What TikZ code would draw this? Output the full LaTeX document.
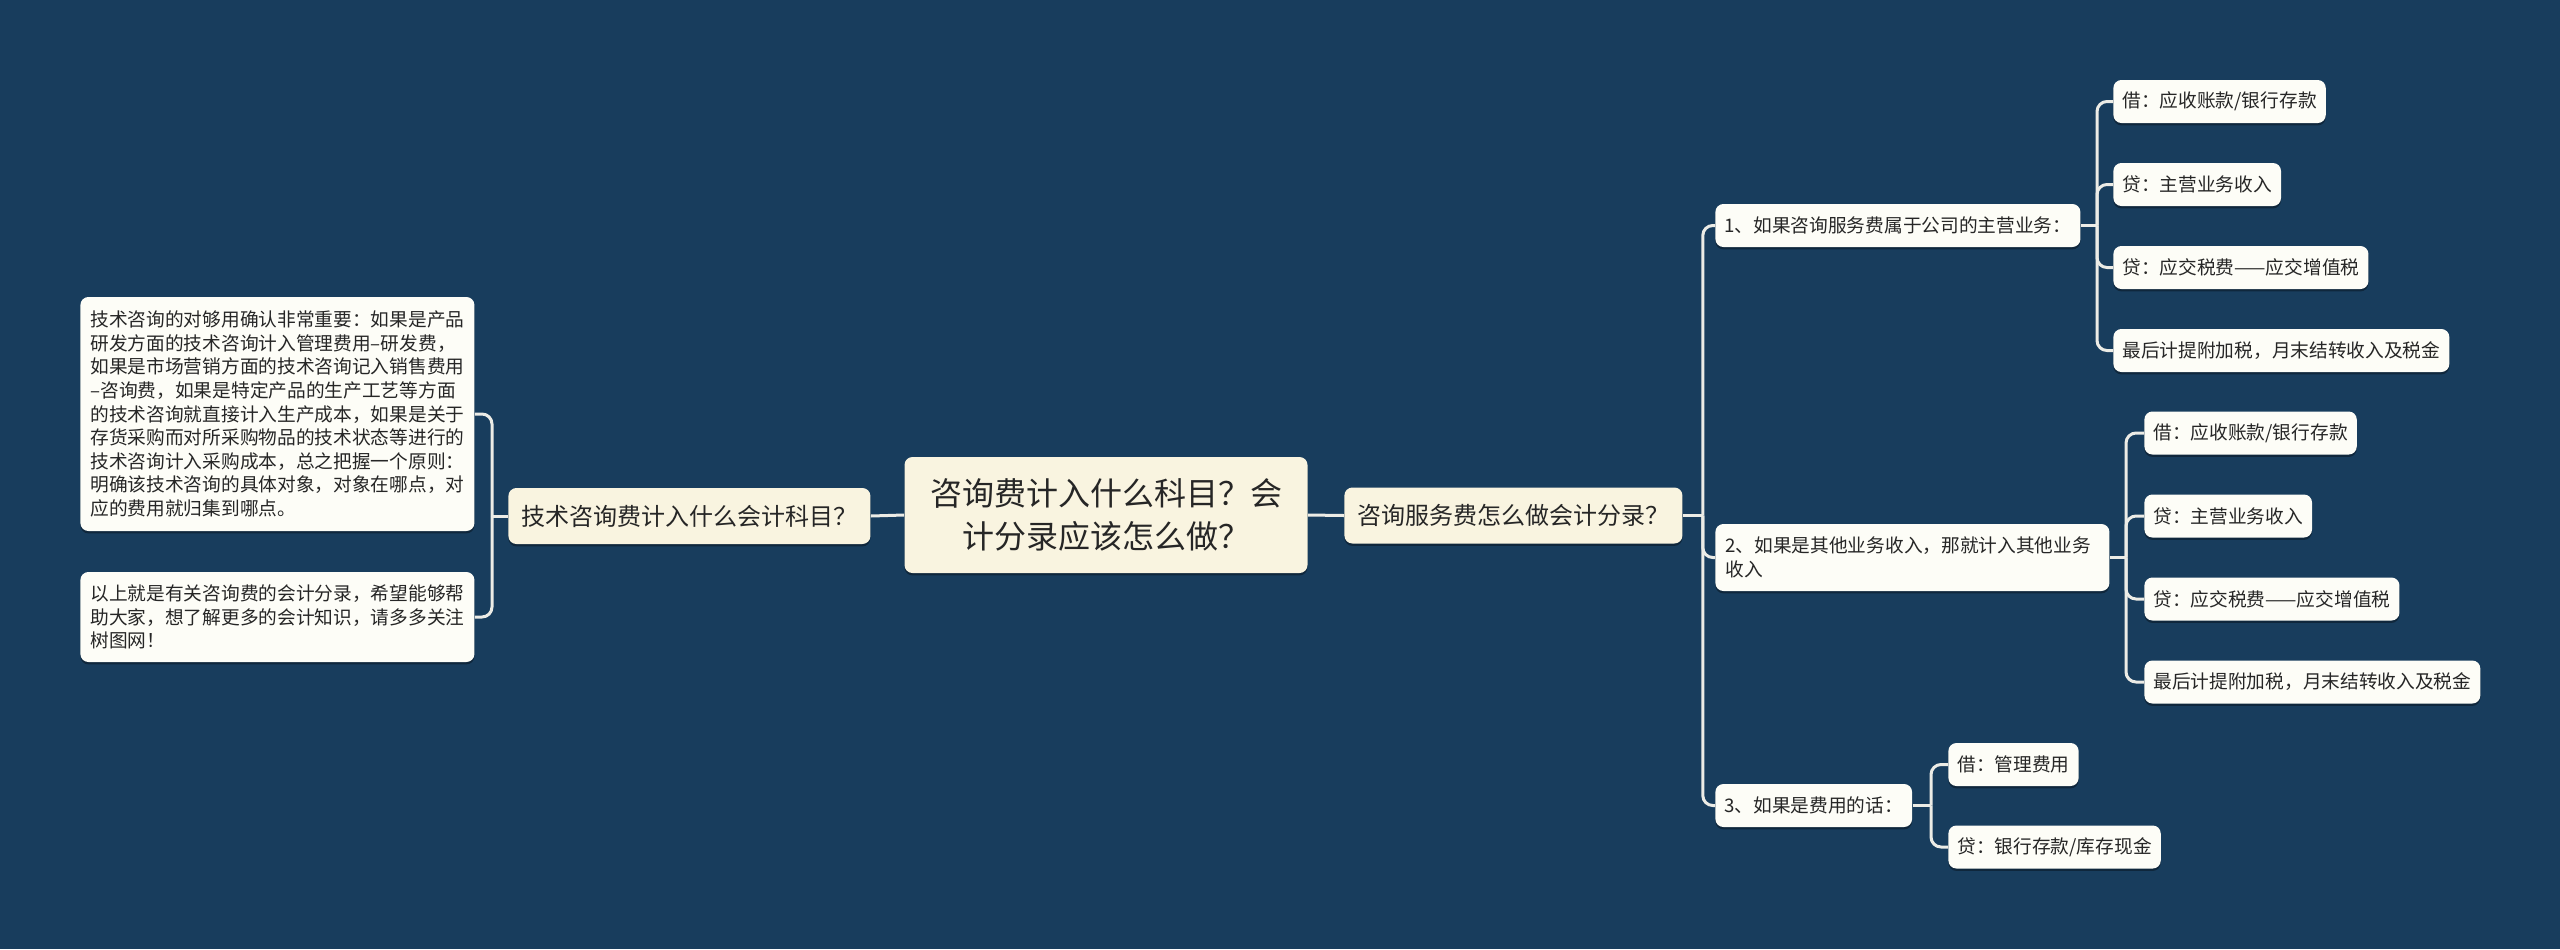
\documentclass[tikz,border=0pt]{standalone}
\usepackage{fontspec}
\setmainfont{Noto Sans CJK SC}
\usetikzlibrary{shadows}

\definecolor{mapbg}{RGB}{24,61,93}
\definecolor{creamfill}{RGB}{249,244,224}
\definecolor{leaffill}{RGB}{253,253,247}
\definecolor{linkgrey}{RGB}{236,236,230}
\definecolor{inkgrey}{RGB}{38,38,38}

\tikzset{
    cardbox/.style={rounded corners=4pt, text=inkgrey,
      drop shadow={shadow xshift=0pt, shadow yshift=-1.2pt, opacity=0.35, fill=black}},
    rootbox/.style={cardbox, fill=creamfill, font=\fontsize{16}{21.5}\selectfont,
      align=center, inner xsep=12.75pt, minimum height=58pt},
    topicbox/.style={cardbox, fill=creamfill, font=\fontsize{12}{14}\selectfont,
      inner xsep=6.5pt, minimum height=28pt},
    leafbox/.style={cardbox, fill=leaffill, font=\fontsize{9.35}{11.8}\selectfont,
      inner xsep=4.5pt, minimum height=21.5pt, anchor=west},
    notebox/.style={leafbox, inner xsep=5pt, text width=187pt, align=left},
    link/.style={draw=linkgrey, line width=1.5pt, rounded corners=5pt}
}

\begin{document}
\begin{tikzpicture}[x=0.5pt,y=-0.5pt]
    \fill[mapbg] (0,0) rectangle (2560,949);
    \useasboundingbox (0,0) rectangle (2560,949);

    \node[rootbox] (root) at (1106,515) {咨询费计入什么科目？会\\计分录应该怎么做？};
    \node[topicbox, anchor=west] (tech) at (508,516) {技术咨询费计入什么会计科目？};
    \node[topicbox, anchor=west] (svc) at (1344,515.5) {咨询服务费怎么做会计分录？};

    \node[notebox, minimum height=117pt] (note1) at (80,414) {技术咨询的对够用确认非常重要：如果是产品\\研发方面的技术咨询计入管理费用–研发费，\\如果是市场营销方面的技术咨询记入销售费用\\–咨询费，如果是特定产品的生产工艺等方面\\的技术咨询就直接计入生产成本，如果是关于\\存货采购而对所采购物品的技术状态等进行的\\技术咨询计入采购成本，总之把握一个原则：\\明确该技术咨询的具体对象，对象在哪点，对\\应的费用就归集到哪点。};
    \node[notebox, minimum height=45pt] (note2) at (80,617) {以上就是有关咨询费的会计分录，希望能够帮\\助大家，想了解更多的会计知识，请多多关注\\树图网！};

    \node[leafbox] (case1) at (1715,225.5) {1、如果咨询服务费属于公司的主营业务：};
    \node[notebox, minimum height=33.5pt] (case2) at (1715,557.5) {2、如果是其他业务收入，那就计入其他业务\\收入};
    \node[leafbox] (case3) at (1715,805.5) {3、如果是费用的话：};

    \foreach \t [count=\i] in {{借：应收账款/银行存款},{贷：主营业务收入},{贷：应交税费——应交增值税},{最后计提附加税，月末结转收入及税金}}{
      \node[leafbox] (a\i) at (2113,{18.5+83*\i}) {\t};
      \node[leafbox] (b\i) at (2144,{350+83*\i}) {\t};
    }
    \node[leafbox] (c1) at (1948,764.5) {借：管理费用};
    \node[leafbox] (c2) at (1948,847) {贷：银行存款/库存现金};

    \draw[link] (root.east) -- (svc.west);
    \draw[link] (root.west) -- (tech.east);

    \coordinate (techfork) at ([xshift=-8pt]tech.west);
    \draw[link] (tech.west) -- (techfork);
    \draw[link] (techfork) |- (note1.east);
    \draw[link] (techfork) |- (note2.east);

    \coordinate (svcfork) at ([xshift=10pt]svc.east);
    \draw[link] (svc.east) -- (svcfork);
    \foreach \c in {case1,case2,case3}
      \draw[link] (svcfork) |- (\c.west);

    \coordinate (fork1) at ([xshift=-8pt]a1.west |- case1.east);
    \coordinate (fork2) at ([xshift=-9pt]b1.west |- case2.east);
    \coordinate (fork3) at ([xshift=-8.5pt]c1.west |- case3.east);
    \draw[link] (case1.east) -- (fork1);
    \draw[link] (case2.east) -- (fork2);
    \draw[link] (case3.east) -- (fork3);
    \foreach \i in {1,...,4}{
      \draw[link] (fork1) |- (a\i.west);
      \draw[link] (fork2) |- (b\i.west);
    }
    \draw[link] (fork3) |- (c1.west);
    \draw[link] (fork3) |- (c2.west);
\end{tikzpicture}
\end{document}
